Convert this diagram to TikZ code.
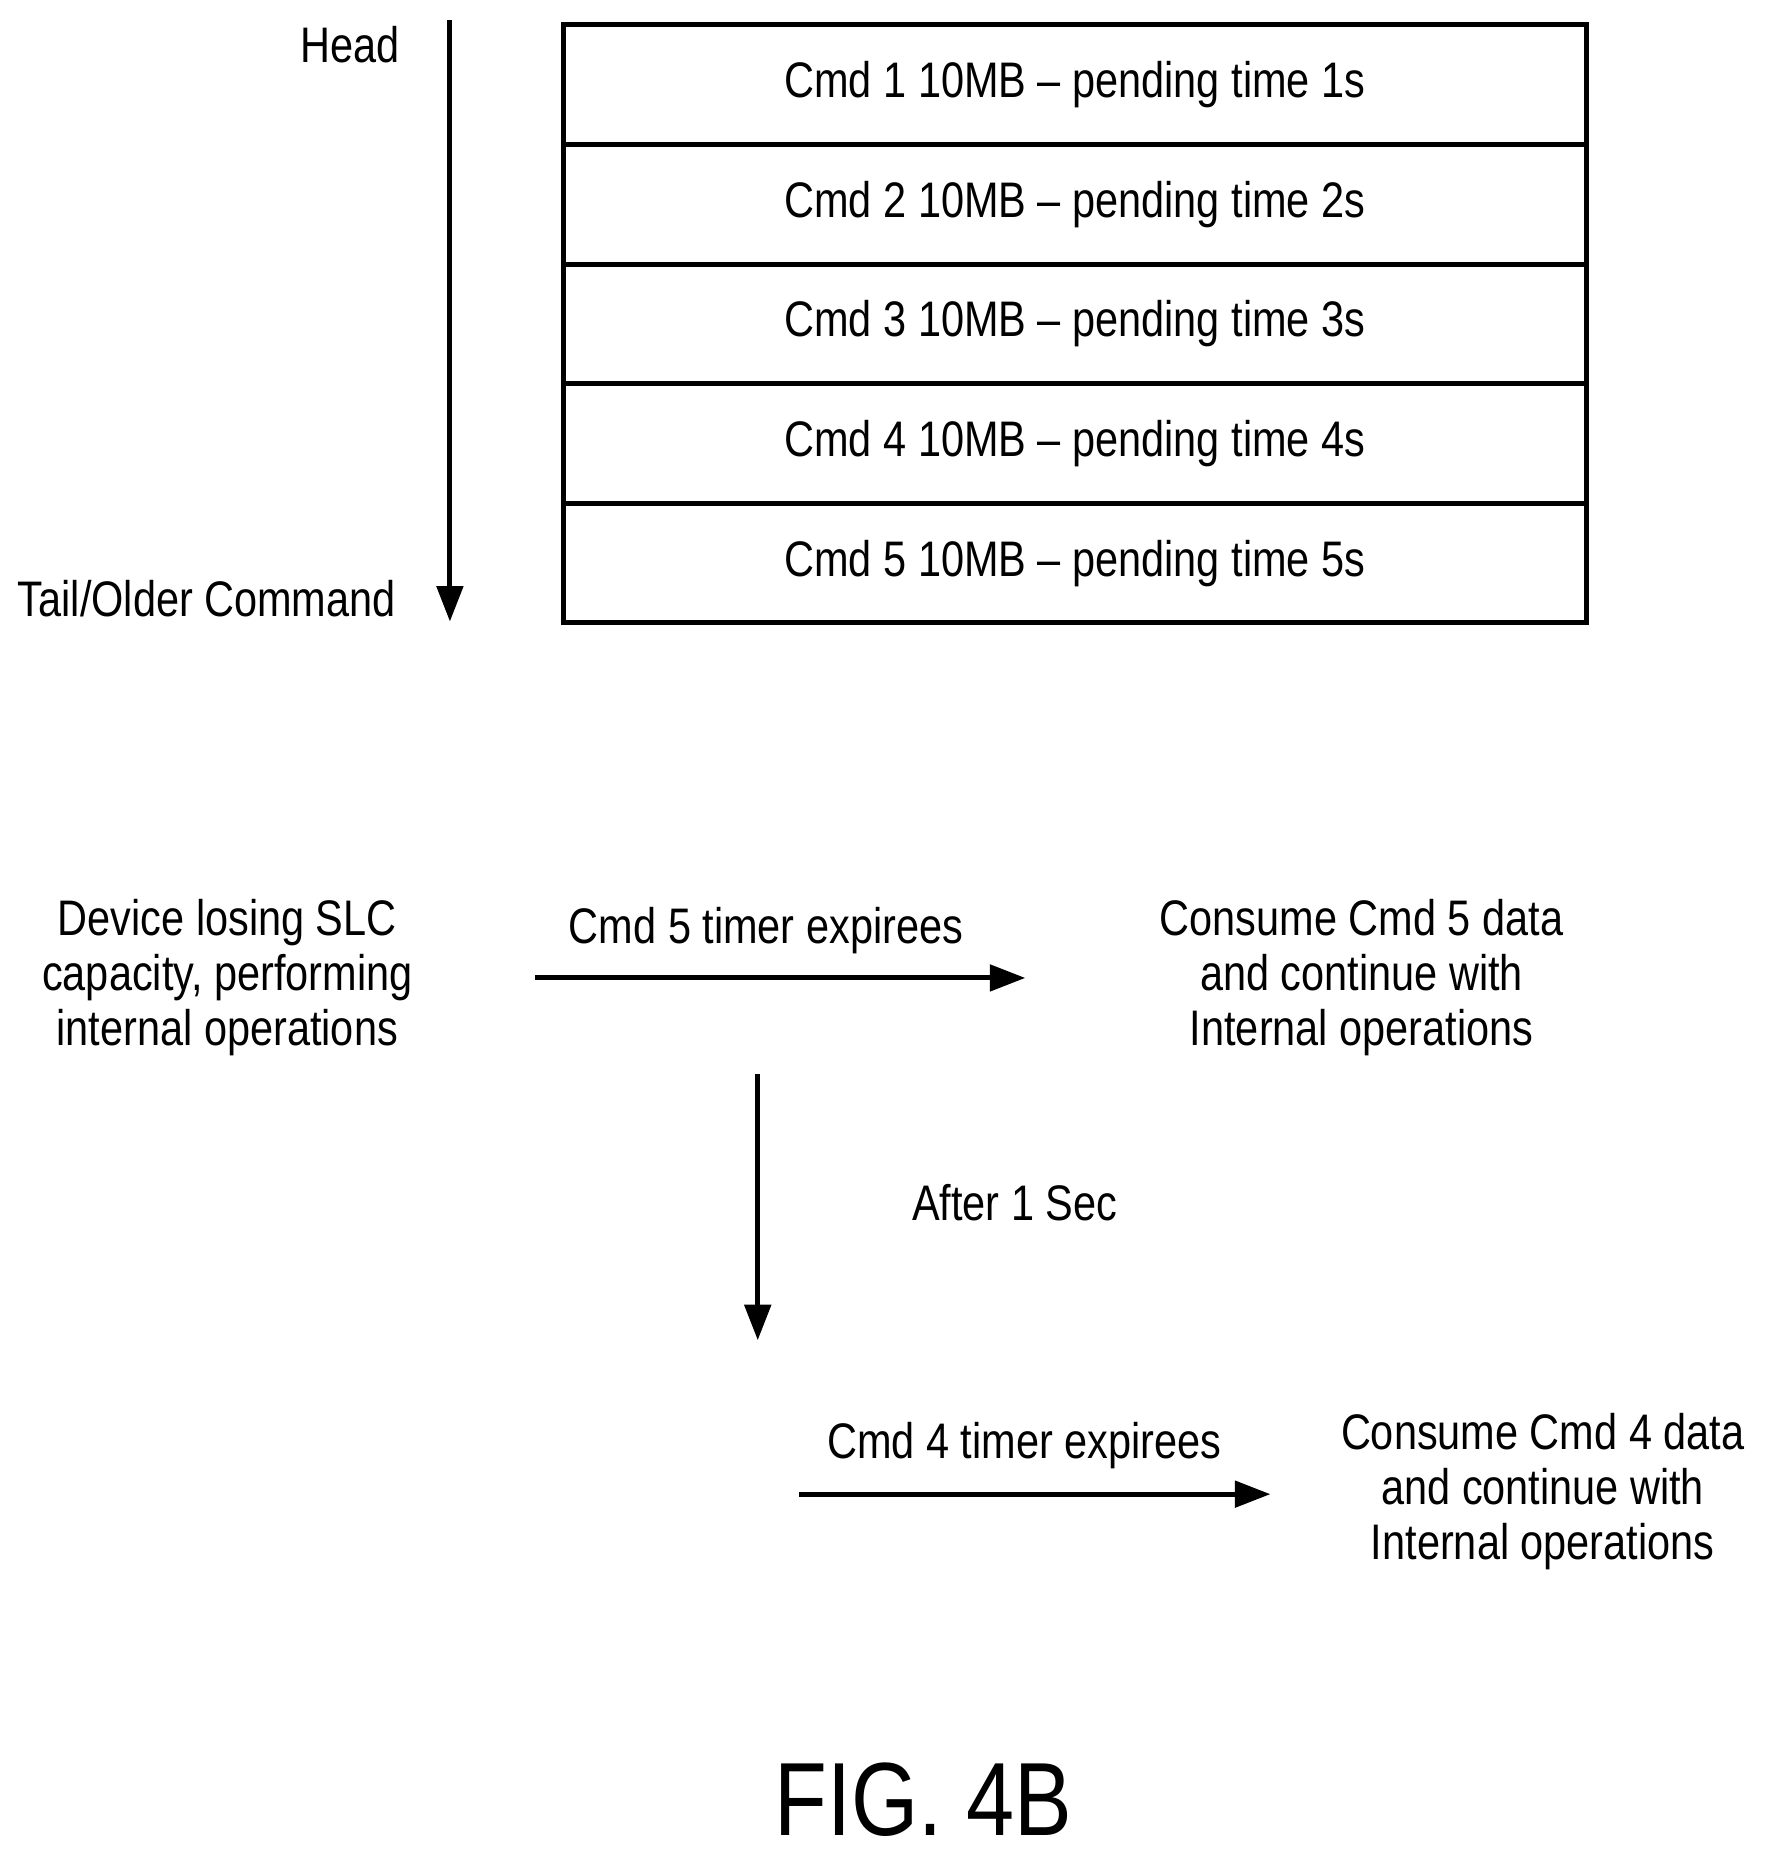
\documentclass[tikz,border=0pt]{standalone}
\usepackage{fontspec}
\setmainfont{Liberation Sans}[FakeStretch=0.83]
\usetikzlibrary{arrows.meta}
\begin{document}
\begin{tikzpicture}[x=0.01cm,y=-0.01cm,
  ln/.style={line width=1.2pt},
  arr/.style={ln,-{Triangle[length=0.3cm,width=0.22cm]}},
  txt/.style={font=\fontsize{12pt}{13.2pt}\selectfont,inner sep=0pt,align=center},
  cell/.style={draw,line width=1.2pt,minimum width=8.63cm,minimum height=1.01cm,font=\fontsize{12pt}{13pt}\selectfont,inner sep=0pt,anchor=north west}]
\useasboundingbox (0,0) rectangle (1490,1571);
\foreach \i/\y in {1/19,2/120,3/221,4/322,5/423}{
  \node[cell] (c\i) at (474,\y) {Cmd \i\ 10MB -- pending time \i s};
}
\coordinate (a1) at (380,17);
\coordinate (a2) at (380,525);
\draw[arr] (a1) -- (a2);
\node[txt,anchor=east] (head) at (338,38) {Head};
\node[txt,anchor=east] (tail) at (335,506) {Tail/Older Command};
\node[txt] (dev) at (192,826) {Device losing SLC\\capacity, performing\\internal operations};
\node[txt] (con5) at (1150,826) {Consume Cmd 5 data\\and continue with\\Internal operations};
\coordinate (p1) at (452,826); \coordinate (p2) at (866,826);
\draw[arr] (p1) -- (p2);
\node[txt] (l1) at (647,786) {Cmd 5 timer expirees};
\coordinate (d1) at (640,907); \coordinate (d2) at (640,1132);
\draw[arr] (d1) -- (d2);
\node[txt] (after) at (857,1016) {After 1 Sec};
\coordinate (q1) at (675,1262); \coordinate (q2) at (1073,1262);
\draw[arr] (q1) -- (q2);
\node[txt] (l2) at (865,1221) {Cmd 4 timer expirees};
\node[txt] (con4) at (1303,1260) {Consume Cmd 4 data\\and continue with\\Internal operations};
\node[txt,font=\fontsize{25pt}{27pt}\selectfont] (fig) at (780,1520) {FIG. 4B};
\end{tikzpicture}
\end{document}
